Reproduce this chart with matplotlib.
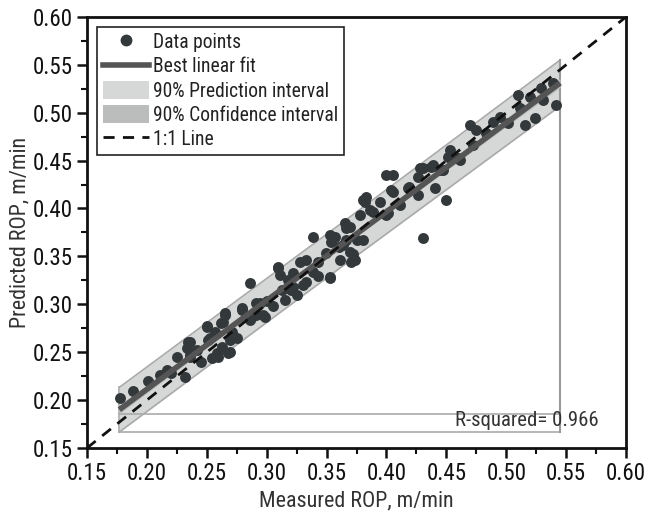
import numpy as np
import matplotlib
matplotlib.use("Agg")
import matplotlib.pyplot as plt
from matplotlib import font_manager as fm
from matplotlib.lines import Line2D
from matplotlib.patches import Patch
from matplotlib.ticker import MultipleLocator, FormatStrFormatter

measured = [0.1775, 0.1886, 0.2012, 0.2109, 0.2170, 0.2248, 0.2317, 0.2345, 0.2331, 0.2360,
            0.2415, 0.2498, 0.2526, 0.2568, 0.2540, 0.2582, 0.2624, 0.2651, 0.2637, 0.2693,
            0.2693, 0.2790, 0.2860, 0.2915, 0.2943, 0.2985, 0.3000, 0.2860, 0.3096, 0.3110,
            0.3180, 0.3207, 0.2915, 0.2790, 0.2650, 0.2970, 0.2873, 0.2500, 0.2620, 0.2570,
            0.2510, 0.2707, 0.2680, 0.2595, 0.2360, 0.2360, 0.3805, 0.3777, 0.3652, 0.3387,
            0.3527, 0.3540, 0.3638, 0.3750, 0.3694, 0.3735, 0.3610, 0.3499, 0.3429, 0.3332,
            0.3276, 0.3096, 0.3220, 0.3387, 0.3527, 0.3332, 0.3220, 0.3124, 0.3249, 0.4000,
            0.4055, 0.4277, 0.4375, 0.4444, 0.4263, 0.4180, 0.4402, 0.4500, 0.4263, 0.4055,
            0.3944, 0.3833, 0.3819, 0.4110, 0.3888, 0.4000, 0.3666, 0.4305, 0.3805, 0.3666,
            0.5418, 0.5390, 0.5292, 0.5195, 0.5097, 0.5306, 0.5236, 0.5153, 0.5111, 0.4944,
            0.4889, 0.5014, 0.4694, 0.4750, 0.4834, 0.4722, 0.4528, 0.4513, 0.4388, 0.4305,
            0.4611, 0.4472, 0.4040, 0.4190, 0.4597, 0.3694, 0.3860, 0.4013, 0.3568, 0.3720,
            0.3708, 0.3527, 0.3430, 0.3300, 0.3150, 0.3050, 0.2750, 0.2450, 0.2200, 0.3600]
predicted = [0.2023, 0.2099, 0.2204, 0.2263, 0.2315, 0.2448, 0.2242, 0.2611, 0.2540, 0.2470,
             0.2524, 0.2767, 0.2646, 0.2698, 0.2437, 0.2490, 0.2559, 0.2889, 0.2820, 0.2628,
             0.2506, 0.2941, 0.2837, 0.2889, 0.3011, 0.2872, 0.3030, 0.3220, 0.3393, 0.3307,
             0.3255, 0.3150, 0.3010, 0.2960, 0.2907, 0.2889, 0.2855, 0.2770, 0.2800, 0.2715,
             0.2628, 0.2715, 0.2490, 0.2454, 0.2610, 0.2454, 0.4090, 0.3933, 0.3846, 0.3707,
             0.3724, 0.3655, 0.3620, 0.3672, 0.3550, 0.3463, 0.3463, 0.3533, 0.3446, 0.3463,
             0.3446, 0.3377, 0.3325, 0.3341, 0.3272, 0.3237, 0.3185, 0.3150, 0.3098, 0.4350,
             0.4350, 0.4420, 0.4437, 0.4403, 0.4333, 0.4212, 0.4212, 0.4090, 0.4142, 0.4177,
             0.4072, 0.4124, 0.4072, 0.4037, 0.3968, 0.3933, 0.3794, 0.3690, 0.3672, 0.3672,
             0.5081, 0.5310, 0.5256, 0.5168, 0.5186, 0.5134, 0.4943, 0.4873, 0.5047, 0.4959,
             0.4907, 0.4890, 0.4873, 0.4820, 0.4786, 0.4664, 0.4612, 0.4542, 0.4455, 0.4420,
             0.4507, 0.4403, 0.4194, 0.4229, 0.4525, 0.3811, 0.3985, 0.3950, 0.3707, 0.3530,
             0.3446, 0.3290, 0.3300, 0.3200, 0.3050, 0.2980, 0.2650, 0.2400, 0.2280, 0.3600]

# best linear fit and interval half-widths
fit_x = [0.177, 0.361, 0.545]
fit_y = [0.190, 0.3605, 0.531]
pred_half = [0.0233, 0.0228, 0.0240]
conf_half = [0.0042, 0.0018, 0.0045]
r2_text = "R-squared= 0.966"

x = np.array(measured)
y = np.array(predicted)

# pick a narrow / condensed sans font (deterministic preference order)
def _prio(f):
    nm = f.name.lower()
    order = ['liberation sans narrow', 'noto sans', 'open sans', 'roboto', 'dejavu sans']
    for i, o in enumerate(order):
        if nm.startswith(o):
            return i
    return len(order)

bad = ('bold', 'italic', 'oblique', 'mono', 'semi', 'extra', 'light', 'medium', 'black',
       'thin', 'display', 'serif', 'cjk')
cands = []
for f in fm.fontManager.ttflist:
    nm = f.name.lower()
    fn = f.fname.lower().split('/')[-1]
    if ('narrow' in nm or 'condensed' in nm or 'condensed' in fn or 'narrow' in fn) \
            and not any(b in fn for b in bad) and f.style == 'normal':
        cands.append(f)
cands.sort(key=lambda f: (_prio(f), f.fname))
if cands:
    chosen = cands[0]
    plt.rcParams['font.family'] = [chosen.name, 'DejaVu Sans']
    plt.rcParams['font.stretch'] = chosen.stretch
    tscale, lscale = 1.23, 1.29
else:
    plt.rcParams['font.family'] = ['DejaVu Sans']
    tscale, lscale = 0.95, 0.95

fig = plt.figure(figsize=(6.59, 5.12), dpi=100)
ax = fig.add_axes([0.132, 0.125, 0.818, 0.842])

fx = np.array(fit_x)
fy = np.array(fit_y)
ph = np.array(pred_half)
ch = np.array(conf_half)

band_col = '#d6d8d8'
ci_col = '#bbbdbd'
edge = '#aaaaaa'
ax.fill_between(fx, fy - ph, fy + ph, color=band_col, zorder=1, lw=0)
ax.plot(fx, fy + ph, color=edge, lw=1.2, zorder=2)
ax.plot(fx, fy - ph, color=edge, lw=1.2, zorder=2)
ax.plot([fx[0], fx[0]], [fy[0] - ph[0], fy[0] + ph[0]], color=edge, lw=1.2, zorder=2)
# Origin-style baseline artifacts
ax.plot([fx[0], fx[-1]], [fy[0] - ph[0]] * 2, color=edge, lw=1.2, zorder=2)
ax.plot([fx[0], fx[-1]], [fy[0] - ch[0]] * 2, color=edge, lw=1.2, zorder=2)
ax.plot([fx[-1], fx[-1]], [fy[0] - ph[0], fy[-1] + ph[-1]], color='#999999', lw=1.5, zorder=2)
ax.fill_between(fx, fy - ch, fy + ch, color=ci_col, zorder=3, lw=0)

ax.scatter(x, y, s=62, color='#33383b', zorder=4, lw=0)
ax.plot(fx, fy, color='#555555', lw=4, zorder=5, solid_capstyle='butt')
ax.plot([0.15, 0.60], [0.15, 0.60], color='#111111', lw=2, ls=(0, (4, 3)), zorder=6)

ax.set_xlim(0.15, 0.60)
ax.set_ylim(0.15, 0.60)
ax.xaxis.set_major_locator(MultipleLocator(0.05))
ax.yaxis.set_major_locator(MultipleLocator(0.05))
ax.xaxis.set_minor_locator(MultipleLocator(0.025))
ax.yaxis.set_minor_locator(MultipleLocator(0.025))
ax.xaxis.set_major_formatter(FormatStrFormatter('%.2f'))
ax.yaxis.set_major_formatter(FormatStrFormatter('%.2f'))
ax.tick_params(which='major', direction='out', length=7, width=1.8, labelsize=13.5 * tscale,
               colors='#111111', pad=3)
ax.tick_params(which='minor', direction='out', length=4, width=1.5, colors='#111111')
for sp in ax.spines.values():
    sp.set_linewidth(2)
    sp.set_color('#111111')

ax.set_xlabel('Measured ROP, m/min', fontsize=12.3 * lscale, color='#333333', labelpad=4)
ax.set_ylabel('Predicted ROP, m/min', fontsize=12.3 * lscale, color='#333333', labelpad=2)

ax.text(0.577, 0.179, r2_text, ha='right', va='center', fontsize=11.6 * lscale, color='#333333',
        zorder=7)

handles = [
    Line2D([], [], marker='o', ls='none', color='#33383b', markersize=7.5),
    Line2D([], [], color='#555555', lw=4),
    Patch(facecolor=band_col, edgecolor='none'),
    Patch(facecolor=ci_col, edgecolor='none'),
    Line2D([], [], color='#111111', lw=2, ls=(0, (4, 3))),
]
labels = ['Data points', 'Best linear fit', '90% Prediction interval',
          '90% Confidence interval', '1:1 Line']
leg = ax.legend(handles, labels, loc='upper left', fontsize=10.9 * lscale, frameon=True,
                fancybox=False, edgecolor='#222222', framealpha=1, borderaxespad=0.5,
                handlelength=2.4, handleheight=1.0, handletextpad=0.2, labelspacing=0.25,
                borderpad=0.3)
leg.get_frame().set_linewidth(1.2)
for tx in leg.get_texts():
    tx.set_color('#222222')
leg.set_zorder(10)

fig.savefig('out.png', dpi=100)
